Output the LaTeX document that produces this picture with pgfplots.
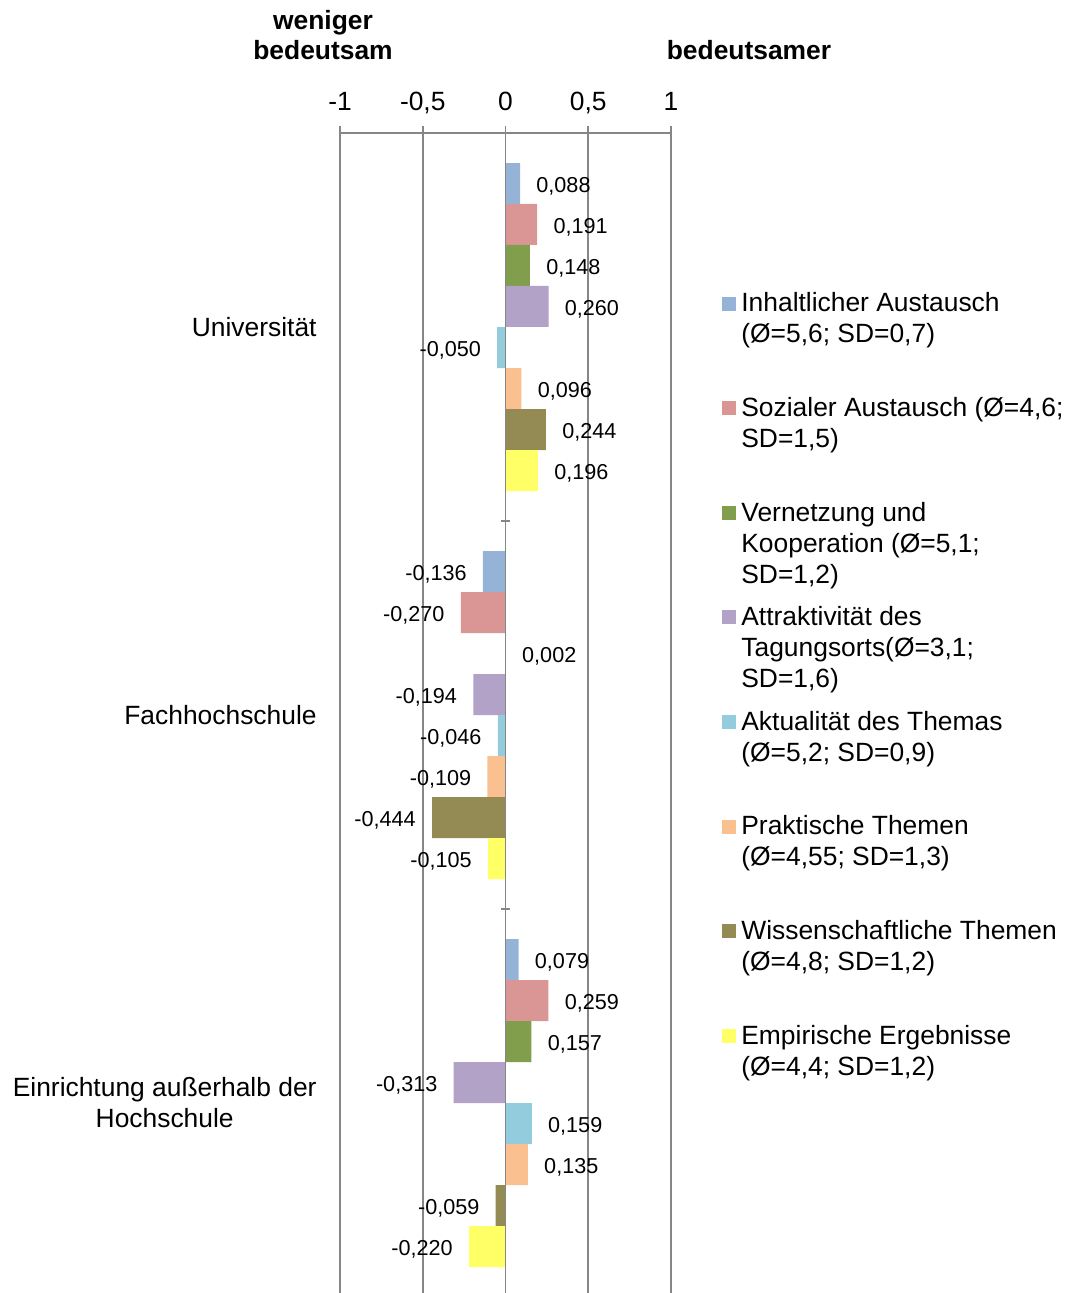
\documentclass[border=0pt]{standalone}
\usepackage{pgfplots}
\pgfplotsset{compat=1.18}
\usepackage{fontspec}
\setmainfont{Liberation Sans}
\definecolor{axgray}{RGB}{134,134,134}
\definecolor{c1}{RGB}{149,179,215}
\definecolor{c2}{RGB}{217,150,148}
\definecolor{c3}{RGB}{128,158,75}
\definecolor{c4}{RGB}{179,162,199}
\definecolor{c5}{RGB}{147,205,221}
\definecolor{c6}{RGB}{250,192,144}
\definecolor{c7}{RGB}{148,138,84}
\definecolor{c8}{RGB}{255,255,102}
\newcommand{\bigf}{\fontsize{13.2}{15.5}\selectfont}
\newcommand{\lent}[1]{\parbox[t]{175pt}{\raggedright\bigf #1}}
\begin{document}
\begin{tikzpicture}
\clip (-170pt,2pt) rectangle (365pt,648.5pt);
\begin{axis}[
  scale only axis,
  width=165.5pt, height=582pt,
  xbar, bar width=0.10567,
  xmin=-1, xmax=1, ymin=-0.5, ymax=2.5,
  y dir=reverse,
  axis x line*=top, axis y line*=left,
  y axis line style={draw=none},
  x axis line style={axgray, line width=0.9pt},
  xtick={-1,-0.5,0,0.5,1},
  xticklabels={-1,{-0,5},0,{0,5},1},
  tick align=outside,
  major tick length=3.5pt,
  xtick style={axgray, line width=0.9pt},
  ytick={0,1,2},
  yticklabels={Universität,Fachhochschule,{Einrichtung außerhalb der\\Hochschule}},
  ytick style={draw=none},
  yticklabel style={align=center, font=\bigf, inner xsep=0pt, xshift=-8pt},
  xticklabel style={font=\bigf, anchor=base, yshift=7.5pt},
  xmajorgrids,
  major grid style={axgray, line width=0.9pt},
  nodes near coords,
  point meta=x,
  every node near coord/.append style={font=\fontsize{10.8}{12}\selectfont, inner xsep=8pt, inner ysep=0pt, yshift=-1.5pt,
     /pgf/number format/.cd, fixed, fixed zerofill, precision=3, use comma, assume math mode=true},
  legend style={at={(1.154,0.8643)}, anchor=north west, draw=none, fill=none, inner sep=0pt,
     row sep=0pt, column sep=2.5pt, nodes={inner sep=0pt, text height=10.3pt, text depth=42pt}},
  legend cell align=left,
  legend image code/.code={\path[fill=none, draw=none] (0pt,1pt) rectangle (7pt,8pt);\fill[#1, overlay] (0pt,16.5pt) rectangle (7pt,23.5pt);},
]
\addplot[fill=c1, draw=none, bar shift=-0.36985] coordinates {(0.088,0) (-0.136,1) (0.079,2)};
\addplot[fill=c2, draw=none, bar shift=-0.26418] coordinates {(0.191,0) (-0.270,1) (0.259,2)};
\addplot[fill=c3, draw=none, bar shift=-0.15851] coordinates {(0.148,0) (0.002,1) (0.157,2)};
\addplot[fill=c4, draw=none, bar shift=-0.05284] coordinates {(0.260,0) (-0.194,1) (-0.313,2)};
\addplot[fill=c5, draw=none, bar shift=0.05284] coordinates {(-0.050,0) (-0.046,1) (0.159,2)};
\addplot[fill=c6, draw=none, bar shift=0.15851] coordinates {(0.096,0) (-0.109,1) (0.135,2)};
\addplot[fill=c7, draw=none, bar shift=0.26418] coordinates {(0.244,0) (-0.444,1) (-0.059,2)};
\addplot[fill=c8, draw=none, bar shift=0.36985] coordinates {(0.196,0) (-0.105,1) (-0.220,2)};
\legend{\lent{Inhaltlicher Austausch\\(Ø=5,6; SD=0,7)},
        \lent{Sozialer Austausch (Ø=4,6;\\SD=1,5)},
        \lent{Vernetzung und\\Kooperation (Ø=5,1;\\SD=1,2)},
        \lent{Attraktivität des\\Tagungsorts(Ø=3,1;\\SD=1,6)},
        \lent{Aktualität des Themas\\(Ø=5,2; SD=0,9)},
        \lent{Praktische Themen\\(Ø=4,55; SD=1,3)},
        \lent{Wissenschaftliche Themen\\(Ø=4,8; SD=1,2)},
        \lent{Empirische Ergebnisse\\(Ø=4,4; SD=1,2)}}
\draw[axgray, line width=0.9pt] (axis cs:0,-0.5) -- (axis cs:0,2.5);
\draw[axgray, line width=0.9pt] (axis cs:-0.0242,0.5) -- (axis cs:0.0242,0.5);
\draw[axgray, line width=0.9pt] (axis cs:-0.0242,1.5) -- (axis cs:0.0242,1.5);
\end{axis}
\node[anchor=base, font=\bigf\bfseries, inner sep=0pt] at (-8.5pt,633.75pt) {weniger};
\node[anchor=base, font=\bigf\bfseries, inner sep=0pt] at (-8.5pt,618.75pt) {bedeutsam};
\node[anchor=base, font=\bigf\bfseries, inner sep=0pt] at (204.5pt,618.75pt) {bedeutsamer};
\end{tikzpicture}
\end{document}
